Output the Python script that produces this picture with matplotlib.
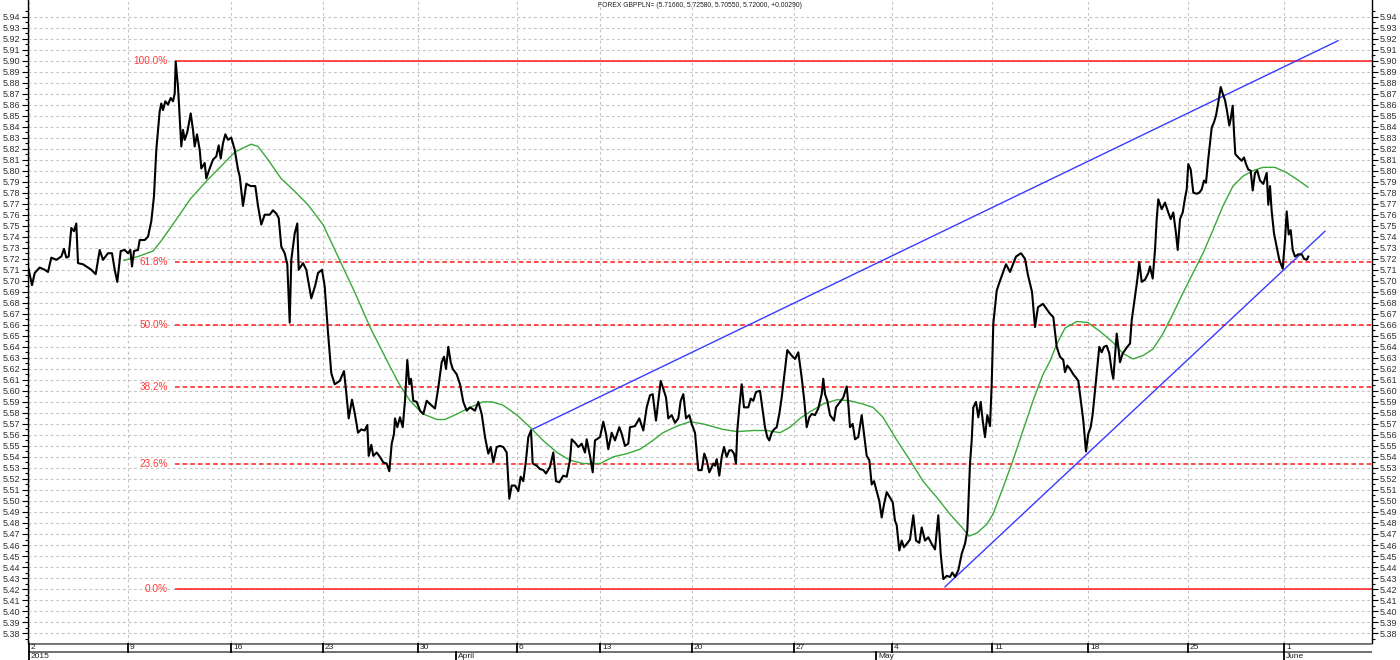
import matplotlib
matplotlib.use("Agg")
import matplotlib.pyplot as plt
import numpy as np
from matplotlib.ticker import FixedLocator, FormatStrFormatter

plt.rcParams['font.family'] = ['Liberation Sans', 'DejaVu Sans']

# ---------------- data ----------------
title = "FOREX GBPPLN= (5.71660, 5.72580, 5.70550, 5.72000, +0.00290)"

# bar index (time axis) and close price of the black price line
price_bar = [
    0, 4, 6.7, 11.7, 16.7, 20, 23.3, 28.3, 33.3, 36, 38.3, 40.7, 43.3, 46, 48.3, 50, 55, 60, 63.3, 67.7,
    71.7, 75, 80, 84, 86.7, 89.3, 92.7, 96.7, 100, 102.3, 104, 106, 110, 111.7, 116.7, 120, 123.3, 126,
    128.3, 131.7, 133.3, 135, 137.3, 140, 142.7, 145, 146.7, 147.7, 150, 151.7, 153.3, 155, 156.7, 159.3,
    162.7, 165, 166.7, 169, 171.7, 173.3, 176.7, 178.3, 181.7, 185, 188.3, 190.7, 192.7, 195, 197.3, 200,
    203.3, 206.7, 210, 211.7, 215, 218.3, 222.7, 227.3, 230, 233.3, 236.7, 241.7, 245, 248.3, 250.7,
    253.3, 256.7, 259.3, 261.7, 263.3, 266.7, 269.3, 270.7, 275, 278.3, 283.3, 287.3, 290, 294, 296.7,
    300, 303.3, 306.7, 311.7, 316, 318.3, 320.7, 324, 326.7, 330, 333.3, 336.7, 339.3, 340.7, 343.3,
    345.3, 348.7, 352, 355.3, 358.7, 361.3, 363.7, 366, 367, 369.3, 372, 374.7, 377, 379.3, 381.3, 383,
    385.3, 388.7, 392, 395.3, 398.7, 402, 407, 410.3, 413.7, 416, 418, 420.3, 422.7, 424.7, 428.7, 432,
    435.3, 438.7, 442, 447, 450.3, 453.7, 457, 460.3, 462.7, 465.3, 468.7, 472, 475.3, 478.7, 481.3,
    483.7, 487, 490.3, 492.7, 495.3, 498, 500.3, 503, 504.7, 508.7, 512, 515.3, 518, 522, 525.3, 528,
    531.3, 535.3, 538.7, 542, 543.7, 547, 550.3, 553.7, 557, 558.7, 562, 564.7, 567, 572, 575.3, 578,
    580.3, 583.7, 587, 591.3, 593.7, 597, 600.3, 602, 607, 611.3, 615.3, 618.7, 622, 624.7, 628, 630.3,
    632.7, 635.3, 638, 640.3, 643.7, 647, 650.3, 652.7, 655.3, 658, 661.3, 663.7, 667, 670.3, 673.7,
    676.3, 678.7, 681.3, 685.3, 687, 688.7, 691.3, 693.7, 696, 698.7, 701.3, 703.7, 706, 708, 709.3,
    711.3, 713.7, 716, 720.3, 722.7, 725.3, 728, 732, 734.7, 737, 739.3, 741.3, 743.7, 746, 748.7,
    751.3, 753.7, 756, 759.3, 763.7, 767, 770.3, 773.7, 776.3, 778.7, 781.3, 783.7, 787, 790.3, 793.7,
    795.3, 797, 799.3, 802, 806, 808, 812, 815.3, 818.7, 820.3, 822, 824.7, 827, 830.3, 833.7, 836,
    838.7, 841.3, 843.7, 846, 848.7, 851.3, 853.7, 856, 858.7, 862, 864.7, 867, 868.7, 871.3, 873.7,
    876, 878.7, 882, 885.3, 888, 891.3, 893.7, 897, 900.3, 903.7, 907, 910.3, 912.7, 915.3, 918.7, 922,
    924.3, 927, 930.3, 933.7, 937, 939.3, 942, 943.7, 945.3, 948, 950.3, 952.7, 954.7, 957, 959.3, 962,
    963.7, 965.3, 968.7, 972, 978, 982, 988, 993, 997, 1000, 1004, 1007, 1010, 1015, 1022, 1025.3,
    1028.7, 1032, 1035.3, 1037, 1039.3, 1042, 1045.3, 1048, 1050.3, 1053.7, 1055.3, 1058, 1060.3, 1062.7,
    1064.7, 1067, 1069.3, 1071.3, 1073.7, 1076, 1078.7, 1081.3, 1083.7, 1085.3, 1087, 1088.7, 1090.3,
    1092, 1094.7, 1097, 1099.3, 1102, 1103.7, 1107, 1109.3, 1111.3, 1113.7, 1117, 1120.3, 1122, 1124.7,
    1127, 1128.7, 1130.3, 1133.7, 1137, 1140.3, 1142.7, 1145.3, 1148, 1149.7, 1152, 1154.7, 1157, 1158.7,
    1160.3, 1162.7, 1165.3, 1168.7, 1171.3, 1173.7, 1176, 1178, 1180.3, 1183.7, 1186, 1188, 1190.3,
    1192.7, 1194.7, 1197, 1198.7, 1201.3, 1202.7, 1204.7, 1206, 1207.3, 1210.3, 1213.7, 1216, 1218,
    1220.3, 1222.7, 1224.7, 1227, 1229.3, 1232, 1235.3, 1238.7, 1240.3, 1242, 1243.7, 1246, 1248.7,
    1251.3, 1254.7, 1257, 1258.7, 1260.7, 1262.7, 1264.7, 1267, 1270.3, 1273.7, 1276, 1278.7, 1280.3,
]
price = [
    5.713, 5.696, 5.707, 5.712, 5.710, 5.708, 5.721, 5.719, 5.722, 5.729, 5.721, 5.722, 5.748, 5.745,
    5.752, 5.716, 5.715, 5.712, 5.710, 5.706, 5.728, 5.719, 5.725, 5.725, 5.710, 5.699, 5.727, 5.728,
    5.725, 5.728, 5.713, 5.727, 5.728, 5.737, 5.737, 5.740, 5.754, 5.777, 5.819, 5.854, 5.861, 5.855,
    5.863, 5.860, 5.866, 5.863, 5.870, 5.899, 5.876, 5.849, 5.822, 5.837, 5.828, 5.835, 5.852, 5.837,
    5.822, 5.833, 5.819, 5.802, 5.807, 5.793, 5.802, 5.810, 5.813, 5.823, 5.811, 5.825, 5.833, 5.828,
    5.830, 5.819, 5.801, 5.795, 5.768, 5.788, 5.786, 5.786, 5.768, 5.751, 5.760, 5.760, 5.764, 5.761,
    5.757, 5.731, 5.725, 5.715, 5.662, 5.719, 5.743, 5.752, 5.710, 5.716, 5.710, 5.684, 5.696, 5.707,
    5.710, 5.695, 5.653, 5.616, 5.606, 5.609, 5.618, 5.598, 5.575, 5.592, 5.580, 5.562, 5.565, 5.564,
    5.569, 5.541, 5.551,
    5.541, 5.544, 5.540, 5.535, 5.534, 5.527, 5.552, 5.561, 5.575, 5.567, 5.576, 5.567, 5.591, 5.628,
    5.606, 5.611, 5.591, 5.590, 5.582, 5.579, 5.591, 5.588, 5.584, 5.603, 5.626, 5.631, 5.620, 5.640,
    5.626, 5.620, 5.615, 5.606, 5.590, 5.582, 5.585, 5.582, 5.590, 5.579, 5.558, 5.543, 5.549, 5.535,
    5.549, 5.550, 5.549, 5.544, 5.502, 5.514, 5.514, 5.509, 5.522, 5.518, 5.537, 5.558, 5.564, 5.534,
    5.532, 5.529, 5.528, 5.525, 5.531, 5.544, 5.518, 5.517, 5.523, 5.522, 5.537, 5.556, 5.553, 5.549,
    5.552, 5.544, 5.556, 5.541, 5.526, 5.555, 5.558, 5.572, 5.561, 5.547, 5.562, 5.555, 5.567, 5.561,
    5.550, 5.552, 5.567, 5.568, 5.575, 5.564, 5.585, 5.596, 5.597, 5.573, 5.591, 5.609, 5.602, 5.594,
    5.575, 5.578, 5.571, 5.575, 5.591, 5.597, 5.575, 5.578, 5.570, 5.562, 5.528, 5.528, 5.543, 5.537,
    5.526, 5.534,
    5.532, 5.538, 5.523, 5.540, 5.549, 5.540, 5.546, 5.546, 5.543, 5.534, 5.564, 5.585, 5.606, 5.585,
    5.585, 5.593, 5.591, 5.599, 5.600, 5.582, 5.567, 5.558, 5.555, 5.562, 5.565, 5.567, 5.579, 5.594,
    5.612, 5.637, 5.632, 5.629, 5.635, 5.612, 5.591, 5.567, 5.576, 5.579, 5.578, 5.584, 5.597, 5.611,
    5.597, 5.591, 5.578, 5.573, 5.585, 5.590, 5.594, 5.604, 5.588, 5.567, 5.570, 5.556, 5.558, 5.578,
    5.561, 5.541, 5.537, 5.515, 5.518, 5.509, 5.500, 5.485, 5.497, 5.508, 5.503, 5.499, 5.482, 5.478,
    5.455, 5.464, 5.458, 5.461, 5.465, 5.487, 5.464, 5.462, 5.476, 5.464, 5.467, 5.461, 5.456, 5.487,
    5.452, 5.429, 5.432, 5.431, 5.435, 5.431, 5.437, 5.452, 5.461, 5.473, 5.534, 5.555, 5.585, 5.590,
    5.576, 5.590, 5.573, 5.558, 5.578, 5.568, 5.606, 5.661, 5.691, 5.700, 5.715, 5.708, 5.722, 5.725,
    5.720, 5.705, 5.690, 5.658, 5.676, 5.679, 5.670, 5.667,
    5.640, 5.631, 5.628, 5.617, 5.623, 5.620, 5.615, 5.612, 5.609, 5.585, 5.573, 5.545, 5.561, 5.567,
    5.579, 5.600, 5.622, 5.640, 5.635, 5.640, 5.641, 5.634, 5.618, 5.611, 5.631, 5.652, 5.640, 5.626,
    5.634, 5.637, 5.640, 5.643, 5.664, 5.686, 5.701, 5.717, 5.699, 5.701, 5.707, 5.713, 5.702, 5.728,
    5.756, 5.774, 5.765, 5.771, 5.762, 5.756, 5.762, 5.743, 5.728, 5.756, 5.762, 5.775, 5.783, 5.806,
    5.801, 5.780, 5.779, 5.780, 5.783, 5.791, 5.789, 5.811, 5.839, 5.844, 5.850, 5.862, 5.876, 5.870,
    5.864, 5.856, 5.841, 5.847, 5.859, 5.835, 5.815, 5.812, 5.809, 5.812, 5.806, 5.801, 5.800, 5.782,
    5.798, 5.800, 5.791, 5.788, 5.798, 5.769, 5.786, 5.763, 5.743, 5.731, 5.719, 5.711, 5.737, 5.763,
    5.742, 5.746, 5.728, 5.722, 5.724, 5.724, 5.720, 5.719, 5.722,
]

# green moving average
ma_bar = [
    96, 110, 125, 133, 147, 163, 180, 193, 207, 223, 230, 240, 253, 267, 280, 295, 310, 327, 343, 352,
    362, 372, 382, 395, 409, 417, 429, 442, 455, 464, 475, 489, 502, 515, 529, 542, 555, 572, 585, 599,
    612, 625, 635, 649, 662, 675, 687, 695, 709, 725, 739, 752, 762, 772, 782, 795, 809, 822, 835, 845,
    855, 869, 882, 895, 909, 922, 934, 941, 949, 959, 965, 975, 985, 995, 1005, 1015, 1022, 1029, 1037,
    1049, 1060, 1072, 1085, 1095, 1105, 1115, 1125, 1135, 1145, 1155, 1165, 1175, 1185, 1195, 1205,
    1215, 1225, 1235, 1247, 1259, 1269, 1280,
]
ma = [
    5.7185, 5.722, 5.727, 5.736, 5.754, 5.775, 5.792, 5.804, 5.817, 5.824, 5.822, 5.810, 5.793, 5.781,
    5.769, 5.751, 5.722, 5.689, 5.656, 5.640, 5.622, 5.605, 5.591, 5.579, 5.574, 5.574, 5.579, 5.585,
    5.590, 5.590, 5.587, 5.578, 5.567, 5.555, 5.544, 5.537, 5.534, 5.534, 5.540, 5.543, 5.547, 5.555,
    5.562, 5.568, 5.572, 5.570, 5.567, 5.565, 5.563, 5.564, 5.564, 5.562, 5.567, 5.575, 5.581, 5.588,
    5.592, 5.591, 5.588, 5.585, 5.576, 5.555, 5.537, 5.518, 5.503, 5.488, 5.476, 5.468, 5.471, 5.479,
    5.488, 5.512, 5.537, 5.564, 5.591, 5.615, 5.627, 5.643, 5.657, 5.663, 5.662, 5.654, 5.644, 5.634,
    5.629, 5.632, 5.638, 5.652, 5.670, 5.689, 5.707, 5.725, 5.746, 5.768, 5.786, 5.795, 5.800, 5.803,
    5.803, 5.798, 5.792, 5.785,
]

# blue trend lines
upper_trend_bar = [503, 1310]
upper_trend = [5.5645, 5.918]
lower_trend_bar = [917, 1297]
lower_trend = [5.422, 5.745]

# fibonacci retracement
fib_high = 5.90
fib_low = 5.42
fib_start_bar = 147
fib_ratios = [1.0, 0.618, 0.5, 0.382, 0.236, 0.0]
fib_labels = ["100.0%", "61.8%", "50.0%", "38.2%", "23.6%", "0.0%"]

# price scale
y_tick_values = [round(5.38 + 0.01 * i, 2) for i in range(57)]

# time axis labels
day_tick_bars = [1, 100, 203, 295, 390, 489, 572, 664, 766, 864, 964, 1060, 1160, 1256]
day_tick_labels = ["2", "9", "16", "23", "30", "6", "13", "20", "27", "4", "11", "18", "25", "1"]
month_tick_bars = [1, 428, 848, 1256]
month_tick_labels = ["2015", "April", "May", "June"]

# ---------------- drawing ----------------
W, H = 1400, 660
fig = plt.figure(figsize=(W / 100, H / 100), dpi=100)
ax = fig.add_axes([28 / W, 17 / H, 1344 / W, 643 / H])
ax.set_xlim(0, 1344)
ax.set_ylim(5.371, 5.955)

grid_kw = dict(color='#c4c4c4', linestyle=(0, (2.5, 2.5)), linewidth=0.8)
ax.yaxis.set_major_locator(FixedLocator(y_tick_values))
minor_vals = [v + 0.005 for v in y_tick_values[:-1]] + [y_tick_values[0] - 0.005, y_tick_values[-1] + 0.005]
ax.yaxis.set_minor_locator(FixedLocator(minor_vals))
ax.yaxis.set_major_formatter(FormatStrFormatter('%.2f'))
ax.set_xticks(day_tick_bars)
ax.set_xticklabels([])
ax.grid(True, which='major', **grid_kw)
ax.set_axisbelow(True)

ax.tick_params(axis='y', which='major', left=True, right=True, labelleft=True, labelright=True,
               direction='out', length=4, width=0.8, labelsize=6.5, labelcolor='#303030', pad=1.5)
ax.tick_params(axis='y', which='minor', left=True, right=True, direction='out', length=2, width=0.8)
ax.tick_params(axis='x', which='both', length=0, bottom=False, top=False)

for s in ['top', 'bottom']:
    ax.spines[s].set_visible(False)
for s in ['left', 'right']:
    ax.spines[s].set_color('black')
    ax.spines[s].set_linewidth(1.0)

# fibonacci lines + labels
for r, lab in zip(fib_ratios, fib_labels):
    lvl = fib_low + r * (fib_high - fib_low)
    ls = '-' if r in (0.0, 1.0) else (0, (3, 2))
    ax.hlines(lvl, fib_start_bar, 1344, color='#ff1a1a', linewidth=1.1, linestyle=ls, zorder=2)
    ax.text(fib_start_bar - 7, lvl, lab, ha='right', va='center', color='#ff3b3b', fontsize=7.2, zorder=3)

# trend lines
ax.plot(upper_trend_bar, upper_trend, color='#3a3aff', linewidth=1.0, zorder=3)
ax.plot(lower_trend_bar, lower_trend, color='#3a3aff', linewidth=1.0, zorder=3)

# moving average
ax.plot(ma_bar, ma, color='#3aa83a', linewidth=1.0, zorder=4)

# price
ax.plot(price_bar, price, color='black', linewidth=1.5, zorder=5)

# title
ax.text(0.5, 0.992, title, transform=ax.transAxes, ha='center', va='center', fontsize=4.9, color='#202020')

# bottom date band
bax = fig.add_axes([28 / W, 0, 1344 / W, 17 / H])
bax.set_xlim(0, 1344)
bax.set_ylim(0, 17)
bax.axis('off')
bax.axhline(16.6, color='#707070', linewidth=2.0)
bax.axhline(8.3, color='#707070', linewidth=1.4)
for b, lab in zip(day_tick_bars, day_tick_labels):
    bax.plot([b, b], [8.3, 17], color='black', linewidth=1.3)
    bax.text(b + 2, 12.4, lab, ha='left', va='center', fontsize=6, color='#202020')
for b, lab in zip(month_tick_bars, month_tick_labels):
    bax.plot([b, b], [0, 8.3], color='black', linewidth=1.3)
    bax.text(b + 2, 3.6, lab, ha='left', va='center', fontsize=6, color='#202020')

fig.savefig('out.png', dpi=100)
